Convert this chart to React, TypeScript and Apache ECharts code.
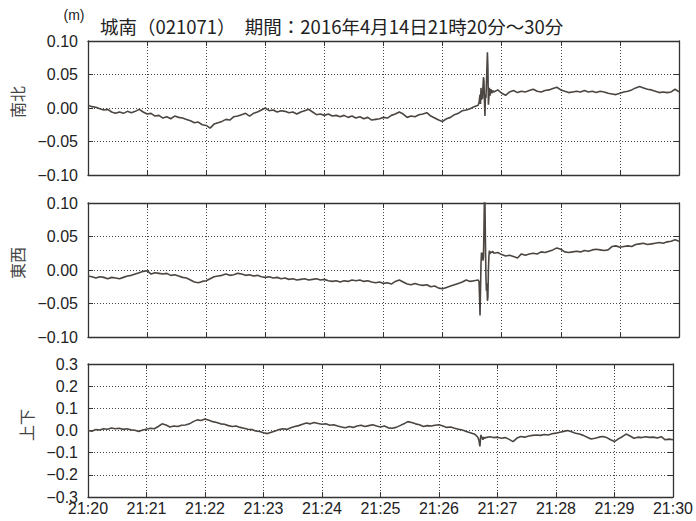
import React, { useEffect, useRef } from 'react';
import * as echarts from 'echarts';

// sampling: pre-segment from 0 s every 4 s, spike segment explicit, post-segment from 416 s every 4 s
const STEP = 4;
const PRE_START = 0;
const POST_START = 416;
const xTicks = ['21:20', '21:21', '21:22', '21:23', '21:24', '21:25', '21:26', '21:27', '21:28', '21:29', '21:30'];

const spikeT = [397, 397.5, 398, 398.5, 399, 399.5, 400, 400.5, 401, 401.5, 402, 402.5, 403, 403.5, 404, 404.5, 405, 405.5, 406, 406.5, 407, 407.5, 408, 409, 410, 411, 412];

const nsPre = [
  0.004, 0.002, 0.001, -0.001, -0.003, -0.002, -0.006, -0.008, -0.006, -0.008,
  -0.005, -0.007, -0.005, -0.002, -0.006, -0.009, -0.008, -0.012, -0.011, -0.015,
  -0.013, -0.016, -0.012, -0.014, -0.015, -0.017, -0.019, -0.022, -0.021, -0.025,
  -0.026, -0.030, -0.024, -0.022, -0.020, -0.017, -0.018, -0.013, -0.012, -0.010,
  -0.008, -0.012, -0.008, -0.006, -0.003, 0.000, -0.004, -0.003, -0.006, -0.004,
  -0.005, -0.007, -0.006, -0.009, -0.006, -0.004, -0.002, -0.006, -0.010, -0.009,
  -0.011, -0.009, -0.012, -0.011, -0.013, -0.011, -0.014, -0.012, -0.015, -0.013,
  -0.016, -0.014, -0.018, -0.017, -0.016, -0.014, -0.015, -0.011, -0.009, -0.006,
  -0.009, -0.014, -0.012, -0.013, -0.010, -0.009, -0.007, -0.012, -0.015, -0.018,
  -0.020, -0.016, -0.014, -0.010, -0.008, -0.004, -0.003, -0.001, 0.002, 0.004,
];
const nsSpike = [0.008, 0.014, 0.020, 0.006, 0.030, 0.012, 0.026, 0.014, 0.032, 0.046, 0.040, 0.010, -0.012, 0.020, 0.015, 0.035, 0.060, 0.083, 0.060, 0.005, 0.015, 0.030, 0.018, 0.028, 0.022, 0.026, 0.024];
const nsPost = [
  0.027, 0.022, 0.019, 0.024, 0.026, 0.023, 0.025, 0.024, 0.026, 0.028,
  0.025, 0.024, 0.026, 0.027, 0.029, 0.031, 0.027, 0.025, 0.023, 0.024,
  0.025, 0.024, 0.026, 0.024, 0.025, 0.023, 0.025, 0.024, 0.022, 0.021,
  0.020, 0.022, 0.024, 0.025, 0.027, 0.030, 0.032, 0.030, 0.028, 0.027,
  0.025, 0.023, 0.024, 0.023, 0.024, 0.028, 0.024,
];

const ewPre = [
  -0.009, -0.010, -0.012, -0.010, -0.011, -0.013, -0.011, -0.012, -0.013, -0.011,
  -0.009, -0.008, -0.006, -0.004, -0.002, -0.001, -0.006, -0.004, -0.005, -0.006,
  -0.005, -0.008, -0.007, -0.009, -0.011, -0.012, -0.015, -0.018, -0.019, -0.017,
  -0.016, -0.013, -0.010, -0.009, -0.008, -0.006, -0.008, -0.007, -0.005, -0.006,
  -0.008, -0.007, -0.009, -0.008, -0.010, -0.011, -0.010, -0.012, -0.011, -0.013,
  -0.012, -0.014, -0.013, -0.015, -0.014, -0.013, -0.015, -0.014, -0.013, -0.015,
  -0.014, -0.016, -0.017, -0.016, -0.018, -0.016, -0.017, -0.015, -0.016, -0.015,
  -0.017, -0.016, -0.018, -0.019, -0.018, -0.020, -0.019, -0.021, -0.017, -0.015,
  -0.018, -0.021, -0.022, -0.020, -0.022, -0.023, -0.022, -0.025, -0.024, -0.027,
  -0.028, -0.026, -0.024, -0.022, -0.020, -0.018, -0.015, -0.017, -0.016, -0.015,
];
const ewSpike = [-0.017, -0.040, -0.068, -0.030, 0.010, 0.026, 0.018, 0.026, 0.014, 0.020, 0.060, 0.115, 0.100, 0.040, -0.010, -0.031, -0.020, -0.046, -0.040, 0.000, 0.020, 0.029, 0.024, 0.027, 0.026, 0.028, 0.025];
const ewPost = [
  0.026, 0.023, 0.021, 0.022, 0.020, 0.018, 0.024, 0.022, 0.024, 0.025,
  0.024, 0.027, 0.026, 0.028, 0.030, 0.033, 0.031, 0.027, 0.026, 0.027,
  0.028, 0.027, 0.029, 0.028, 0.030, 0.031, 0.030, 0.029, 0.030, 0.035,
  0.036, 0.034, 0.035, 0.036, 0.035, 0.038, 0.039, 0.040, 0.038, 0.039,
  0.040, 0.041, 0.040, 0.042, 0.043, 0.045, 0.043,
];

const udPre = [
  0.000, -0.003, 0.004, 0.002, 0.008, 0.006, 0.011, 0.008, 0.010, 0.005,
  0.008, 0.003, 0.001, -0.004, 0.002, 0.006, 0.010, 0.008, 0.018, 0.030,
  0.025, 0.016, 0.020, 0.018, 0.024, 0.025, 0.030, 0.040, 0.048, 0.045,
  0.052, 0.046, 0.040, 0.036, 0.030, 0.028, 0.022, 0.018, 0.020, 0.014,
  0.010, 0.006, 0.004, -0.002, -0.004, -0.010, -0.014, -0.008, -0.002, 0.004,
  0.008, 0.005, 0.012, 0.018, 0.022, 0.028, 0.034, 0.030, 0.036, 0.032,
  0.028, 0.030, 0.024, 0.026, 0.020, 0.016, 0.012, 0.018, 0.014, 0.020,
  0.024, 0.018, 0.022, 0.026, 0.020, 0.016, 0.020, 0.012, 0.010, 0.014,
  0.022, 0.030, 0.040, 0.036, 0.030, 0.026, 0.018, 0.022, 0.020, 0.024,
  0.026, 0.020, 0.014, 0.016, 0.010, 0.006, 0.002, -0.004, -0.010, -0.016,
];
const udSpike = [-0.018, -0.020, -0.022, -0.025, -0.024, -0.028, -0.030, -0.038, -0.045, -0.060, -0.072, -0.040, -0.020, -0.026, -0.030, -0.036, -0.042, -0.036, -0.030, -0.033, -0.036, -0.032, -0.034, -0.031, -0.030, -0.029, -0.028];
const udPost = [
  -0.032, -0.030, -0.035, -0.032, -0.040, -0.050, -0.034, -0.027, -0.030, -0.025,
  -0.022, -0.020, -0.022, -0.018, -0.020, -0.015, -0.012, -0.008, -0.004, 0.000,
  -0.006, -0.012, -0.016, -0.022, -0.030, -0.038, -0.035, -0.030, -0.027, -0.032,
  -0.042, -0.050, -0.038, -0.028, -0.016, -0.025, -0.035, -0.030, -0.032, -0.028,
  -0.031, -0.030, -0.034, -0.028, -0.042, -0.039, -0.042,
];

const panelNames = ['南北', '東西', '上下'];
const yRanges = [
  { min: -0.1, max: 0.1, interval: 0.05, digits: 2 },
  { min: -0.1, max: 0.1, interval: 0.05, digits: 2 },
  { min: -0.3, max: 0.3, interval: 0.1, digits: 1 },
];
const titleText = '城南（021071）　期間：2016年4月14日21時20分～30分';
const unitText = '(m)';

function build(pre: number[], spike: number[], post: number[]) {
  const d: number[][] = [];
  pre.forEach((v, i) => d.push([PRE_START + i * STEP, v]));
  spikeT.forEach((t, i) => d.push([t, spike[i]]));
  post.forEach((v, i) => d.push([POST_START + i * STEP, v]));
  return d;
}

const seriesData = [build(nsPre, nsSpike, nsPost), build(ewPre, ewSpike, ewPost), build(udPre, udSpike, udPost)];

const AXIS_COLOR = '#333';
const LINE_COLOR = '#4b4642';
const FONT = '"Liberation Sans", Arial, sans-serif';
const CJK = '"Noto Sans CJK JP", sans-serif';

export default function App() {
  const ref = useRef<HTMLDivElement>(null);
  useEffect(() => {
    if (!ref.current) return;
    const chart = echarts.init(ref.current, null, { renderer: 'svg' });
    const grids = [
      { left: 88, right: 17, top: 41, height: 134 },
      { left: 88, right: 17, top: 203, height: 134 },
      { left: 88, right: 17, top: 364, height: 133 },
    ];
    const xAxes: any[] = [];
    const yAxes: any[] = [];
    const series: any[] = [];
    grids.forEach((g, gi) => {
      const axisLine = { show: true, onZero: false, lineStyle: { color: AXIS_COLOR, width: 1.3 } };
      const tick = { show: true, inside: true, length: 5, lineStyle: { color: AXIS_COLOR, width: 1 } };
      xAxes.push({
        gridIndex: gi, type: 'value', min: 0, max: 600, interval: 60, position: 'bottom',
        axisLine, axisTick: tick,
        axisLabel: {
          show: gi === 2, color: '#222', fontSize: 16, fontFamily: FONT, margin: 3,
          formatter: (v: number) => xTicks[Math.round(v / 60)] ?? '',
        },
        splitLine: { show: true, lineStyle: { color: '#444', type: [1, 2], width: 1 } },
      });
      xAxes.push({
        gridIndex: gi, type: 'value', min: 0, max: 600, interval: 60, position: 'top',
        axisLine, axisTick: tick, axisLabel: { show: false }, splitLine: { show: false },
      });
      const r = yRanges[gi];
      yAxes.push({
        gridIndex: gi, type: 'value', min: r.min, max: r.max, interval: r.interval, position: 'left',
        axisLine, axisTick: tick,
        axisLabel: {
          color: '#222', fontSize: 16, fontFamily: FONT, margin: 10,
          formatter: (v: number) => {
            if (Math.abs(v) < 1e-9) return (0).toFixed(r.digits);
            return (v < 0 ? '\u2212' : '') + Math.abs(v).toFixed(r.digits);
          },
        },
        splitLine: { show: true, lineStyle: { color: '#444', type: [1, 2], width: 1 } },
      });
      yAxes.push({
        gridIndex: gi, type: 'value', min: r.min, max: r.max, interval: r.interval, position: 'right',
        axisLine, axisTick: tick, axisLabel: { show: false }, splitLine: { show: false },
      });
      series.push({
        type: 'line', xAxisIndex: gi * 2, yAxisIndex: gi * 2, data: seriesData[gi],
        showSymbol: false, symbol: 'none', clip: true,
        lineStyle: { color: LINE_COLOR, width: 1.6 },
      });
    });
    const nameY = [102, 263, 425];
    const nameX = [17, 17, 26];
    const graphic: any[] = [
      {
        type: 'text', x: 100, y: 26,
        style: { text: titleText, font: `18.5px ${CJK}`, fill: '#222', textAlign: 'left', textVerticalAlign: 'middle' },
      },
      {
        type: 'text', x: 74, y: 15,
        style: { text: unitText, font: `14px ${FONT}`, fill: '#222', textAlign: 'center', textVerticalAlign: 'middle' },
      },
      ...panelNames.map((n, i) => ({
        type: 'text', x: nameX[i], y: nameY[i], rotation: Math.PI / 2,
        style: { text: n, font: `16px ${CJK}`, fill: '#444', textAlign: 'center', textVerticalAlign: 'middle' },
      })),
    ];
    chart.setOption({
      animation: false,
      backgroundColor: '#fff',
      grid: grids,
      xAxis: xAxes,
      yAxis: yAxes,
      series,
      graphic,
    });
    return () => chart.dispose();
  }, []);
  return <div ref={ref} style={{ position: 'fixed', left: 0, top: 0, width: 696, height: 521 }} />;
}
